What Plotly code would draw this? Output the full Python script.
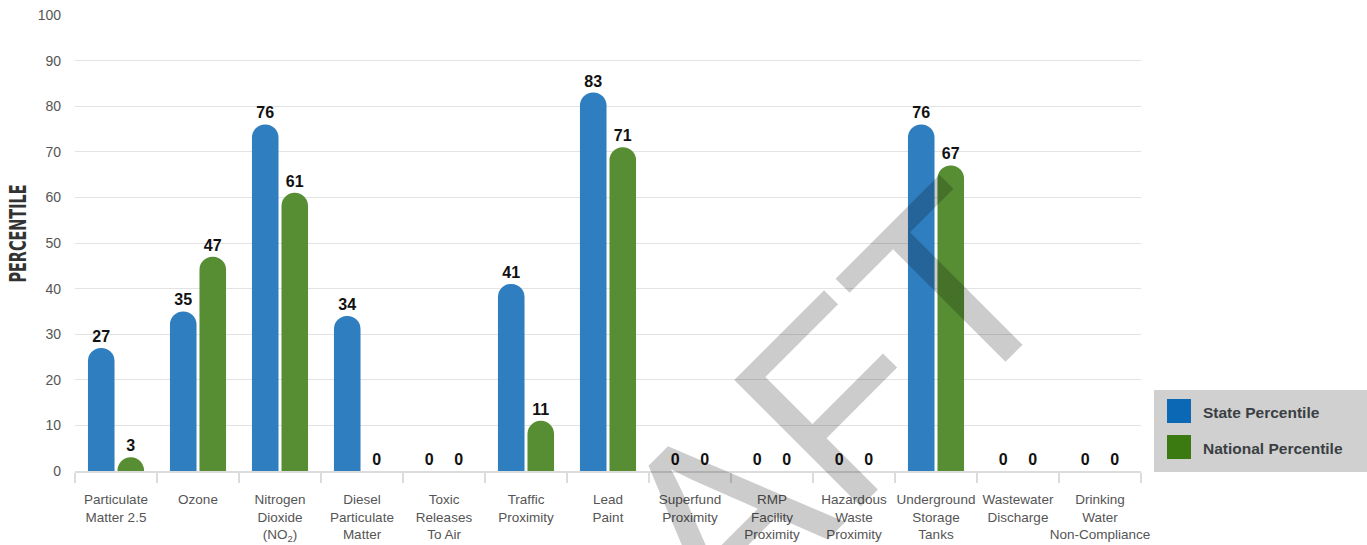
import plotly.graph_objects as go

categories = [
    "Particulate<br>Matter 2.5", "Ozone", "Nitrogen<br>Dioxide<br>(NO<sub>2</sub>)",
    "Diesel<br>Particulate<br>Matter", "Toxic<br>Releases<br>To Air", "Traffic<br>Proximity",
    "Lead<br>Paint", "Superfund<br>Proximity", "RMP<br>Facility<br>Proximity",
    "Hazardous<br>Waste<br>Proximity", "Underground<br>Storage<br>Tanks",
    "Wastewater<br>Discharge", "Drinking<br>Water<br>Non-Compliance",
]
state_pct = [27, 35, 76, 34, 0, 41, 83, 0, 0, 0, 76, 0, 0]
national_pct = [3, 47, 61, 0, 0, 11, 71, 0, 0, 0, 67, 0, 0]
series_names = ["State Percentile", "National Percentile"]
bar_colors = ["#2F7EBF", "#578E34"]
legend_colors = ["#0B68B4", "#3A7A10"]
y_ticks = list(range(0, 101, 10))
y_title = "PERCENTILE"
watermark = "DRAFT"

W, H = 1367, 545
L, R, T, B = 75, 1141, 15, 471


def px(x):
    return (x - L) / (R - L)


def py(y):
    return (B - y) / (B - T)


fig = go.Figure()
for name, vals, col in zip(series_names, [state_pct, national_pct], bar_colors):
    fig.add_trace(go.Bar(
        x=categories, y=vals, name=name,
        marker=dict(color=col, line=dict(width=0)),
        text=[str(v) for v in vals], textposition="outside",
        textfont=dict(family="Liberation Sans, Arial, sans-serif", size=16, color="#111111", weight="bold"),
        constraintext="none", cliponaxis=False, showlegend=False,
    ))

annotations = []
shapes = []
# legend box
shapes.append(dict(type="rect", xref="paper", yref="paper", x0=px(1154), x1=px(1367),
                   y0=py(472), y1=py(390), fillcolor="#D0D0D0", line=dict(width=0), layer="below"))
for i, (name, col) in enumerate(zip(series_names, legend_colors)):
    top = 399 + i * 36
    shapes.append(dict(type="rect", xref="paper", yref="paper", x0=px(1167), x1=px(1191),
                       y0=py(top + 24), y1=py(top), fillcolor=col, line=dict(width=0)))
    annotations.append(dict(text="<b>%s</b>" % name, xref="paper", yref="paper",
                            x=px(1201), y=py(top + 13), xanchor="left", yanchor="middle",
                            showarrow=False,
                            font=dict(family="Liberation Sans, Arial, sans-serif", size=15.5, color="#3A3F44")))

# y-axis title
annotations.append(dict(text="<b>%s</b>" % y_title, xref="paper", yref="paper", x=px(18), y=py(234),
                        xanchor="center", yanchor="middle", textangle=-90, showarrow=False,
                        font=dict(family="DejaVu Sans Condensed, Liberation Sans Narrow, Arial Narrow, sans-serif",
                                  size=23, color="#333333")))

# watermark
annotations.append(dict(text=watermark, xref="paper", yref="paper", x=px(700), y=py(540),
                        xanchor="center", yanchor="middle", textangle=-45, showarrow=False,
                        font=dict(family="Liberation Sans, Arial, sans-serif", size=260,
                                  color="rgba(0,0,0,0.2)")))

fig.update_layout(
    width=W, height=H,
    margin=dict(l=L, r=W - R, t=T, b=H - B, pad=0, autoexpand=False),
    paper_bgcolor="white", plot_bgcolor="white",
    barmode="group", bargap=0.28, bargroupgap=0.1,
    barcornerradius="50%",
    font=dict(family="Liberation Sans, Arial, sans-serif", size=13, color="#555555"),
    xaxis=dict(
        type="category", showgrid=False, showline=True, linecolor="#DCDCDC", linewidth=2,
        ticks="outside", tickson="boundaries", ticklen=10, tickcolor="#DCDCDC", tickwidth=1.5,
        tickfont=dict(size=13.5, color="#555555"), ticklabelstandoff=15, tickangle=0, automargin=False,
    ),
    yaxis=dict(
        range=[0, 100], tickvals=y_ticks, showgrid=True, gridcolor="#E3E3E3", gridwidth=1,
        zeroline=False, showline=False, ticks="", ticklabelstandoff=13, automargin=False,
        tickfont=dict(size=14, color="#555555"),
    ),
    shapes=shapes, annotations=annotations,
)

post = """
var gd = document.getElementById('{plot_id}');
function fixTitle(){
  document.querySelectorAll('.annotation-text').forEach(function(t){
    if (t.textContent === 'PERCENTILE') {
      t.setAttribute('textLength', '98');
      t.setAttribute('lengthAdjust', 'spacingAndGlyphs');
    }
  });
}
fixTitle();
gd.on('plotly_afterplot', fixTitle);
"""

fig.write_html("out.html", post_script=post)
